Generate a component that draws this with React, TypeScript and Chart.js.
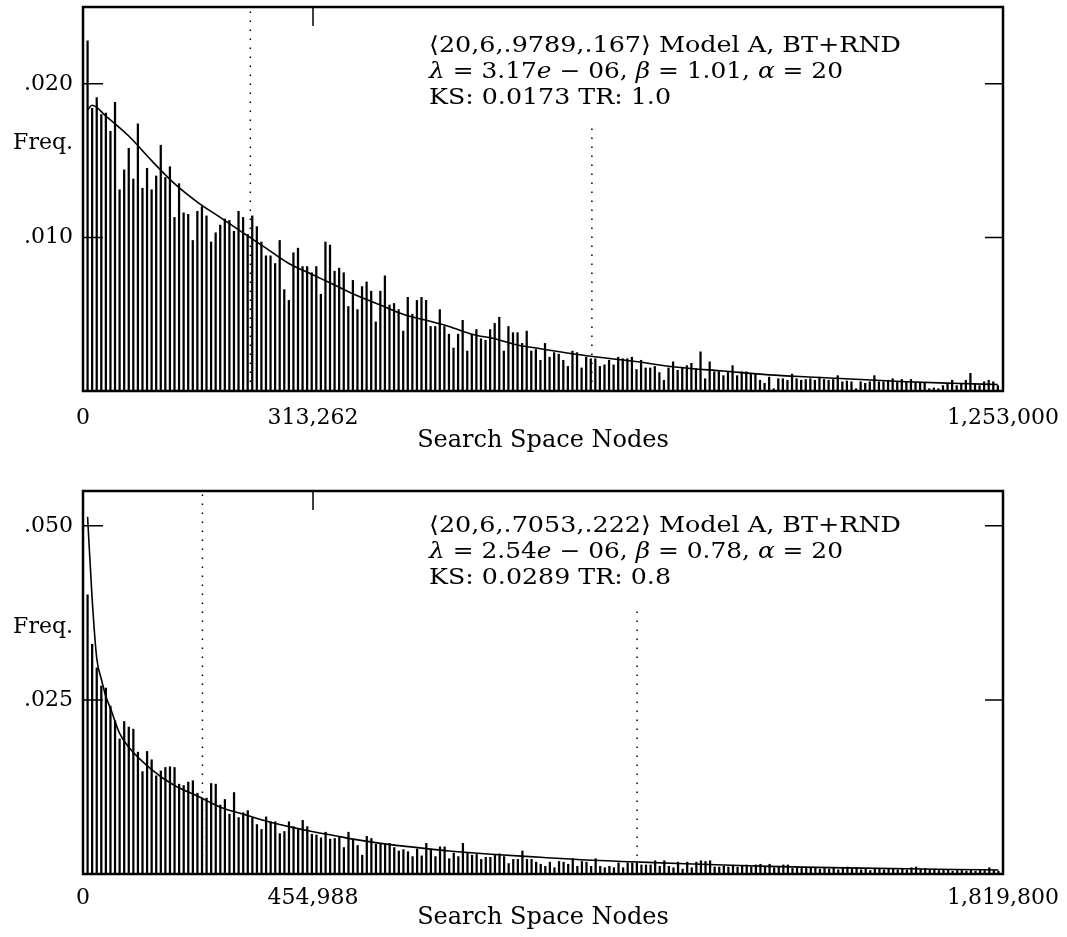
import React, { useEffect, useRef } from "react";
import { Chart, registerables } from "chart.js";

Chart.register(...registerables);

const FONT = "'DejaVu Serif', 'Liberation Serif', serif";

// ---------------- Panel 1 data ----------------
const topBinWidth = 6230;
const topXMax = 1253000;
const topXTicks = [0, 313262, 1253000];
const topXTickLabels = ["0", "313,262", "1,253,000"];
const topYMax = 0.025;
const topYTicks = [0.01, 0.01615, 0.02];
const topYTickLabels = [".010", "Freq.", ".020"];
const topYMarks = [0.01, 0.02];
const topMedianMark = 313262;
const topBarFreq = [
  .0228, .0184, .0191, .0180, .0181, .0169, .0188, .0131, .0144, .0158,
  .0138, .0174, .0132, .0145, .0131, .0140, .0160, .0139, .0146, .0113,
  .0135, .0116, .0115, .0098, .0117, .0120, .0114, .0097, .0103, .0108,
  .0112, .0111, .0104, .0117, .0113, .0102, .0114, .0107, .0097, .0088,
  .0088, .0083, .0098, .0066, .0059, .0090, .0093, .0081, .0081, .0077,
  .0081, .0063, .0097, .0095, .0078, .0080, .0077, .0055, .0072, .0053,
  .0068, .0071, .0065,
  .0045, .0065, .0075, .0056, .0057, .0053, .0039, .0061, .0050, .0059,
  .0061, .0059, .0042, .0042, .0053, .0042, .0037, .0028, .0037, .0046,
  .0026, .0037, .0040, .0034, .0033, .0040, .0044, .0048, .0026, .0042,
  .0038, .0038, .0031, .0039, .0026, .0027, .0020, .0031, .0022, .0025,
  .0024, .0020, .0016, .0026, .0025, .0015, .0022, .0021, .0021, .0016,
  .0017, .0020, .0017, .0022, .0021, .0021, .0022, .0014, .0020, .0015,
  .0015, .0016, .0012, .0007, .0015,
  .0019, .00135, .00155, .00165, .0018, .00145, .00255, .0008, .0019, .00125,
  .00125, .0010, .00125, .00165, .0010, .00125, .00125, .0011, .00115, .0007,
  .0005, .0009, .00015, .0008, .0008, .0007, .0011, .0008, .0007, .00075,
  .0008, .0007, .0009, .00075, .0007, .00075, .0010, .0006, .00065, .0006,
  .00015, .0006, .0005, .0006, .0010, .0006, .0006, .0007, .0008, .0006,
  .00075, .0006, .00075, .00055, .00055, .00055, .00015, .0002, .00015, .00035,
  .00045, .0007, .00035, .0005, .0007, .00115, .00045, .00035, .0006, .0007,
  .0006, .00035,
];
const topCurveBins = [1, 2, 5, 10, 15, 20, 25, 30, 35, 40, 45, 50, 55, 60, 65, 70, 75, 80, 85, 90, 95, 100, 110, 120, 130, 140, 150, 160, 170, 180, 190, 200];
const topCurveFreq = [
  .0183, .0186, .0179, .0166, .0150, .0135, .0123, .0113, .0103, .0093,
  .0083, .0076, .0069, .0062, .0056, .0050, .0046, .0042, .0037, .0034,
  .0030, .00275, .0023, .00195, .00155, .0013, .00105, .0009, .00075, .0006,
  .0005, .00042,
];
const topDottedX = [227900, 693100];
const topDottedTop = [0.025, 0.0175];
const topNote1 = "⟨20,6,.9789,.167⟩ Model A, BT+RND";
const topNote2 = ["λ", " = 3.17", "e", " − 06, ", "β", " = 1.01, ", "α", " = 20"];
const topNote3 = "KS: 0.0173 TR: 1.0";

// ---------------- Panel 2 data ----------------
const botBinWidth = 9054;
const botXMax = 1819800;
const botXTicks = [0, 454988, 1819800];
const botXTickLabels = ["0", "454,988", "1,819,800"];
const botYMax = 0.055;
const botYTicks = [0.025, 0.0354, 0.05];
const botYTickLabels = [".025", "Freq.", ".050"];
const botYMarks = [0.025, 0.05];
const botMedianMark = 454988;
const botBarFreq = [
  .0401, .0330, .0296, .0270, .0267, .0241, .0220, .0194, .0219, .0211,
  .0208, .0175, .0147, .0176, .0164, .0141, .0148, .0153, .0154, .0153,
  .0129, .0127, .0132, .0134, .0116, .0109, .0109, .0130, .0129, .0099,
  .0107, .0086, .0117, .0081, .0088, .0091, .0081, .0071, .0064, .0082,
  .0075, .0075, .0058, .0061, .0075, .0068, .0064, .0077, .0068, .0057,
  .0056, .0052, .0060, .0050, .0051, .0054, .0038, .0060, .0049, .0041,
  .0027, .0054, .0051,
  .0043, .0043, .0043, .0044, .0038, .0033, .0035, .0032, .0025, .0036,
  .0026, .0044, .0036, .0025, .0039, .0039, .0022, .0030, .0025, .0044,
  .0030, .0027, .0028, .0021, .0024, .0024, .0028, .0029, .0025, .0015,
  .0021, .0021, .0033, .0021, .0021, .0017, .0014, .0011, .0017, .0009,
  .0018, .0017, .0014, .0022, .0011, .0018, .0017, .0011, .0022, .0011,
  .0009, .0011, .0009, .0016, .0009, .0016, .0016, .0016, .0013, .0013,
  .0013, .0019, .0011, .0019, .0011,
  .0009, .0017, .0007, .0017, .0009, .0017, .0019, .0018, .0019, .0010,
  .0010, .0011, .0010, .0012, .0010, .0011, .0013, .0010, .0013, .0014,
  .0010, .0014, .0009, .0011, .0013, .0013, .0008, .0009, .0008, .0008,
  .0009, .0008, .0007, .0008, .0007, .0009, .0006, .0008, .0010, .0008,
  .0009, .0006, .0008, .0005, .0007, .0007, .0006, .0008, .0007, .0006,
  .0008, .0006, .0009, .0010, .0007, .0008, .0006, .0007, .0005, .0006,
  .0006, .0004, .0005, .0005, .0004, .0006, .0004, .0005, .0005, .0009,
  .0005, .0004,
];
const botCurveBins = [1, 2, 3, 4, 5, 6, 8, 10, 15, 20, 25, 30, 35, 40, 45, 50, 55, 60, 65, 70, 80, 90, 100, 110, 120, 130, 140, 150, 160, 170, 180, 190, 200];
const botCurveFreq = [
  .0513, .0395, .0310, .0280, .0255, .0238, .0202, .0182, .0150, .0127,
  .0112, .0096, .0086, .0076, .0068, .0061, .0055, .0049, .0044, .0040,
  .0033, .0028, .0024, .0020, .00175, .0015, .0013, .0011, .00095, .00085,
  .00075, .00065, .00058,
];
const botDottedX = [236300, 1096000];
const botDottedTop = [0.055, 0.0387];
const botNote1 = "⟨20,6,.7053,.222⟩ Model A, BT+RND";
const botNote2 = ["λ", " = 2.54", "e", " − 06, ", "β", " = 0.78, ", "α", " = 20"];
const botNote3 = "KS: 0.0289 TR: 0.8";

type Panel = {
  binWidth: number; xMax: number; xTicks: number[]; xTickLabels: string[];
  yMax: number; yTicks: number[]; yTickLabels: string[]; yMarks: number[]; medianMark: number;
  bars: number[]; curveBins: number[]; curveFreq: number[]; dottedX: number[]; dottedTop: number[];
  note1: string; note2: string[]; note3: string;
  height: number; padTop: number; xAxisHeight: number; xTickPad: number; titlePadBottom: number;
};

const panels: Panel[] = [
  {
    binWidth: topBinWidth, xMax: topXMax, xTicks: topXTicks, xTickLabels: topXTickLabels,
    yMax: topYMax, yTicks: topYTicks, yTickLabels: topYTickLabels, yMarks: topYMarks, medianMark: topMedianMark,
    bars: topBarFreq, curveBins: topCurveBins, curveFreq: topCurveFreq, dottedX: topDottedX, dottedTop: topDottedTop,
    note1: topNote1, note2: topNote2, note3: topNote3,
    height: 470, padTop: 7, xAxisHeight: 79, xTickPad: 14, titlePadBottom: 15,
  },
  {
    binWidth: botBinWidth, xMax: botXMax, xTicks: botXTicks, xTickLabels: botXTickLabels,
    yMax: botYMax, yTicks: botYTicks, yTickLabels: botYTickLabels, yMarks: botYMarks, medianMark: botMedianMark,
    bars: botBarFreq, curveBins: botCurveBins, curveFreq: botCurveFreq, dottedX: botDottedX, dottedTop: botDottedTop,
    note1: botNote1, note2: botNote2, note3: botNote3,
    height: 457, padTop: 11, xAxisHeight: 63, xTickPad: 11, titlePadBottom: 5,
  },
];

function drawNote(ctx: CanvasRenderingContext2D, segs: { t: string; it: boolean }[], x: number, y: number, width: number) {
  const size = 22;
  let total = 0;
  for (const s of segs) {
    ctx.font = `${s.it ? "italic " : ""}${size}px ${FONT}`;
    total += ctx.measureText(s.t).width;
  }
  const sx = width / total;
  ctx.save();
  ctx.translate(x, y);
  ctx.scale(sx, 1);
  ctx.textBaseline = "alphabetic";
  ctx.textAlign = "left";
  ctx.fillStyle = "#000";
  let cx = 0;
  for (const s of segs) {
    ctx.font = `${s.it ? "italic " : ""}${size}px ${FONT}`;
    ctx.fillText(s.t, cx, 0);
    cx += ctx.measureText(s.t).width;
  }
  ctx.restore();
}

function makeChart(canvas: HTMLCanvasElement, p: Panel) {
  const bars = p.bars.map((y, i) => ({ x: (i + 1) * p.binWidth, y }));
  const curve = p.curveBins.map((b, i) => ({ x: b * p.binWidth, y: p.curveFreq[i] }));
  const datasets: any[] = [
    { type: "bar", data: bars, backgroundColor: "#000", borderWidth: 0, barThickness: 1.6, order: 3 },
    { type: "line", data: curve, borderColor: "#000", borderWidth: 1.6, pointRadius: 0, fill: false, cubicInterpolationMode: "monotone", order: 1 },
    ...p.dottedX.map((x, i) => ({
      type: "line", data: [{ x, y: 0 }, { x, y: p.dottedTop[i] }], borderColor: "#000", borderWidth: 1.5,
      borderDash: [1.5, 7.5], pointRadius: 0, fill: false, order: 2,
    })),
  ];
  const decor = {
    id: "decor",
    afterDraw(chart: any) {
      const ctx: CanvasRenderingContext2D = chart.ctx;
      const a = chart.chartArea;
      const xs = chart.scales.x;
      const ys = chart.scales.y;
      ctx.save();
      ctx.strokeStyle = "#000";
      ctx.lineWidth = 1.5;
      ctx.beginPath();
      for (const v of p.yMarks) {
        const y = ys.getPixelForValue(v);
        ctx.moveTo(a.left, y); ctx.lineTo(a.left + 20, y);
        ctx.moveTo(a.right - 18, y); ctx.lineTo(a.right, y);
      }
      const tx = xs.getPixelForValue(p.medianMark);
      ctx.moveTo(tx, a.top); ctx.lineTo(tx, a.top + 19);
      ctx.stroke();
      ctx.lineWidth = 2.5;
      ctx.strokeRect(a.left, a.top, a.right - a.left, a.bottom - a.top);
      ctx.restore();
      drawNote(ctx, [{ t: p.note1, it: false }], 429, 52, 472);
      drawNote(ctx, p.note2.map((t, i) => ({ t, it: i % 2 === 0 })), 429, 78, 414);
      drawNote(ctx, [{ t: p.note3, it: false }], 429, 104, 242);
    },
  };
  return new Chart(canvas, {
    type: "bar",
    data: { datasets },
    options: {
      animation: false,
      responsive: false,
      maintainAspectRatio: false,
      layout: { padding: { left: 0, right: 64, top: p.padTop, bottom: 0 }, autoPadding: false } as any,
      plugins: { legend: { display: false }, tooltip: { enabled: false } },
      scales: {
        x: {
          type: "linear", min: 0, max: p.xMax, offset: false,
          grid: { display: false, drawTicks: false }, border: { display: false },
          afterBuildTicks: (s: any) => { s.ticks = p.xTicks.map((v) => ({ value: v })); },
          afterFit: (s: any) => {
            s.height = p.xAxisHeight;
            s.paddingLeft = 0; s.paddingRight = 0; s.paddingTop = 0; s.paddingBottom = 0;
          },
          ticks: {
            autoSkip: false, maxRotation: 0, minRotation: 0, padding: p.xTickPad, color: "#000",
            font: { family: FONT, size: 22 },
            callback: (v: any) => { const i = p.xTicks.indexOf(Number(v)); return i >= 0 ? p.xTickLabels[i] : ""; },
          },
          title: {
            display: true, text: "Search Space Nodes", color: "#000",
            font: { family: FONT, size: 24 }, padding: { top: 0, bottom: p.titlePadBottom },
          },
        },
        y: {
          type: "linear", min: 0, max: p.yMax,
          grid: { display: false, drawTicks: false }, border: { display: false },
          afterBuildTicks: (s: any) => { s.ticks = p.yTicks.map((v) => ({ value: v })); },
          afterFit: (s: any) => {
            s.width = 83;
            s.paddingLeft = 0; s.paddingRight = 0; s.paddingTop = 0; s.paddingBottom = 0;
          },
          ticks: {
            autoSkip: false, padding: 10, color: "#000", font: { family: FONT, size: 22 },
            callback: (v: any) => { const i = p.yTicks.indexOf(Number(v)); return i >= 0 ? p.yTickLabels[i] : ""; },
          },
        },
      },
    } as any,
    plugins: [decor],
  });
}

export default function App() {
  const ref1 = useRef<HTMLCanvasElement>(null);
  const ref2 = useRef<HTMLCanvasElement>(null);
  useEffect(() => {
    const c1 = makeChart(ref1.current!, panels[0]);
    const c2 = makeChart(ref2.current!, panels[1]);
    return () => { c1.destroy(); c2.destroy(); };
  }, []);
  return (
    <div style={{ position: "absolute", left: 0, top: 0, width: 1067, height: 937, background: "#fff" }}>
      <canvas ref={ref1} width={1067} height={panels[0].height} style={{ position: "absolute", left: 0, top: 0, width: 1067, height: panels[0].height }} />
      <canvas ref={ref2} width={1067} height={panels[1].height} style={{ position: "absolute", left: 0, top: 480, width: 1067, height: panels[1].height }} />
    </div>
  );
}
